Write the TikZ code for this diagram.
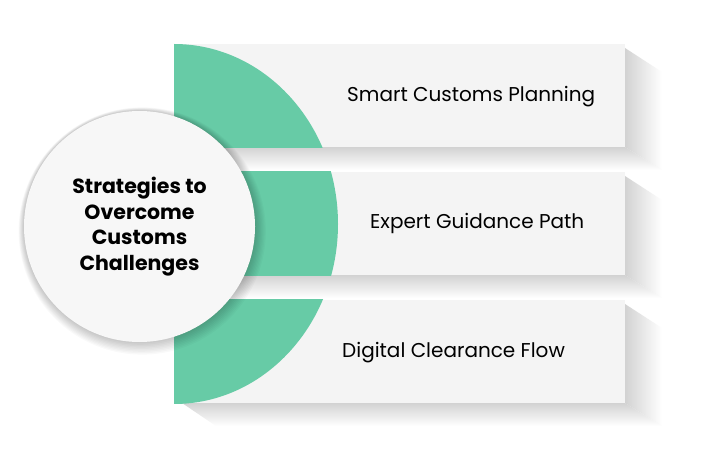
\documentclass[tikz,border=0pt]{standalone}
\usepackage{fontspec}
\setmainfont{Poppins}
\usepackage{xcolor}
\usetikzlibrary{positioning}
\definecolor{leaf}{HTML}{67CBA6}
\definecolor{barfill}{HTML}{F4F4F4}
\definecolor{hubfill}{HTML}{F7F7F7}
\definecolor{shade}{HTML}{D2D2D2}

\begin{document}
\begin{tikzpicture}[x=1pt,y=-1pt,every node/.style={font=\fontsize{20}{24}\selectfont}]
    \tikzstyle{bar}=[minimum width=451pt,minimum height=103pt,inner sep=0pt,fill=barfill];
    \tikzstyle{lbl}=[inner sep=0pt,anchor=base west];
    \tikzstyle{hub}=[circle,minimum size=231pt,inner sep=0pt,fill=hubfill,align=center,
                     font=\fontsize{20.5}{25.7}\selectfont\bfseries];

    \useasboundingbox[fill=white] (0,0) rectangle (704,462);

    % three bars, each with its long shadow and a slice of the green disc
    \foreach \i/\y in {1/44,2/172,3/300}{
      \shade[left color=shade,right color=white]
        (625,\y+4) -- (662,\y+28) -- (662,\y+126) -- (625,\y+103) -- cycle;
      \shade[top color=shade,bottom color=white]
        (182,\y+103) -- (625,\y+103) -- (662,\y+126) -- (216,\y+126) -- cycle;
      \node[bar,anchor=north west] (bar\i) at (174,\y) {};
      \begin{scope}
        \clip (bar\i.north west) rectangle (bar\i.south east);
        \fill[leaf] (174,224) ellipse [x radius=164pt,y radius=180pt];
      \end{scope}
    }

    \node[lbl] (plan)  at (347,102) {Smart Customs Planning};
    \node[lbl] (guide) at (370,229) {Expert Guidance Path};
    \node[lbl] (flow)  at (342,357) {Digital Clearance Flow};

    % centre circle with a soft shadow
    \foreach \r in {1,...,9}
      \fill[black,opacity=0.025] (139.5+0.3*\r,226.5+0.5*\r) circle [radius=115.5pt+0.9*\r pt];
    \node[hub] (hub) at (139.5,226.5) {Strategies to\\Overcome\\Customs\\Challenges};
\end{tikzpicture}
\end{document}
